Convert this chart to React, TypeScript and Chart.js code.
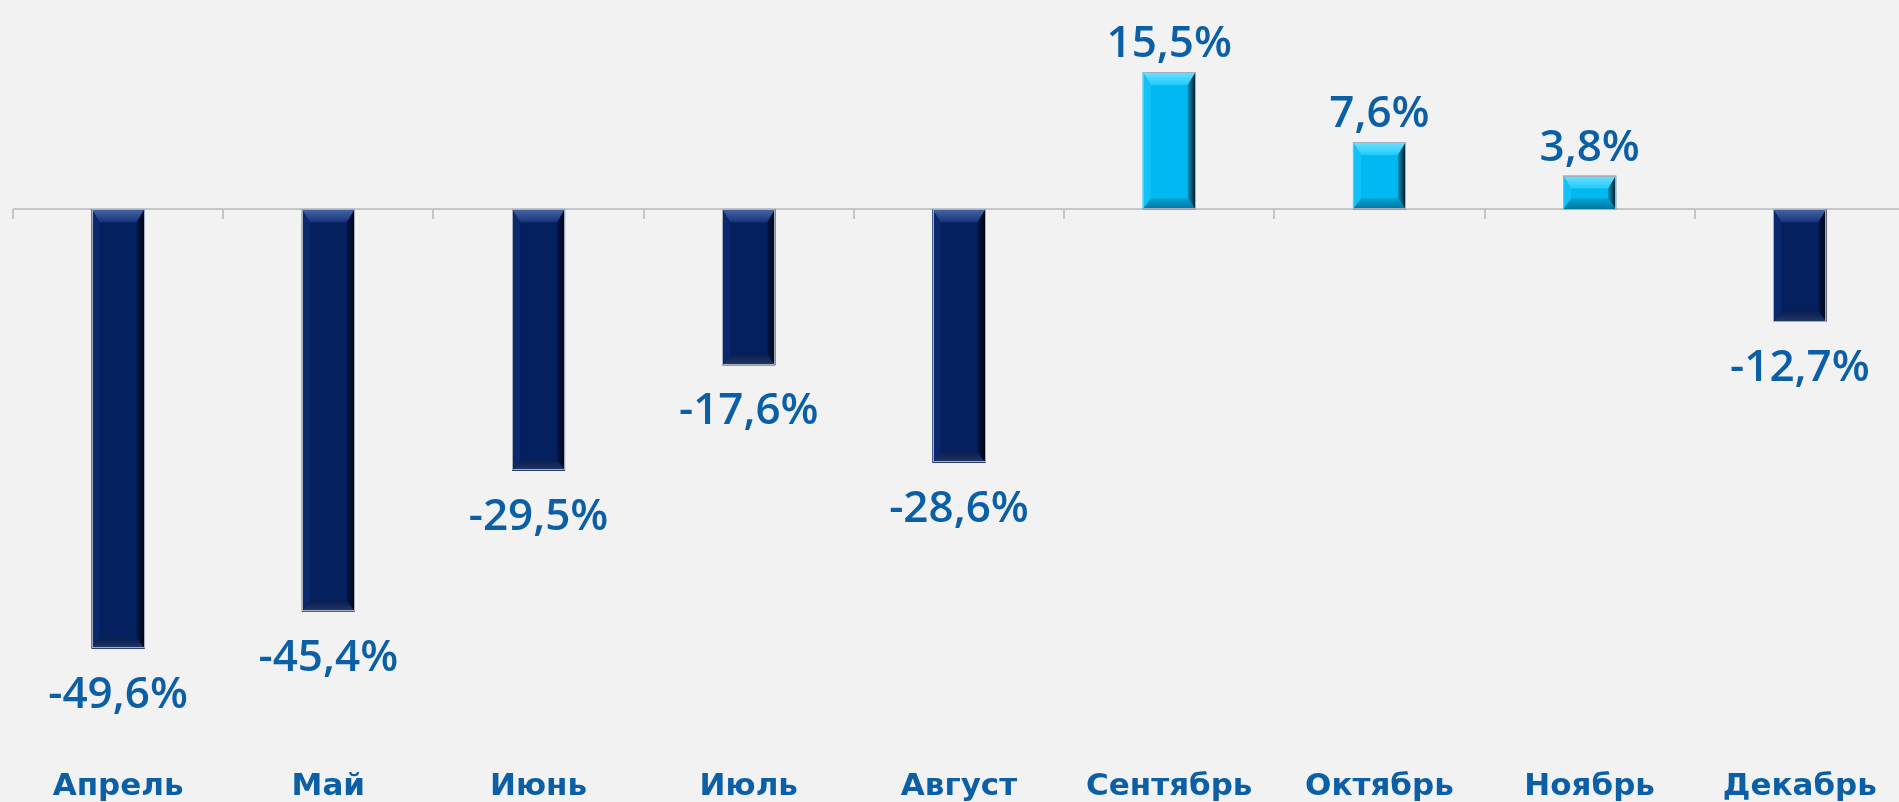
import React, { useEffect, useRef } from 'react';
import { Chart, registerables } from 'chart.js';

Chart.register(...registerables);

// ---- data ----
const months = ['Апрель', 'Май', 'Июнь', 'Июль', 'Август', 'Сентябрь', 'Октябрь', 'Ноябрь', 'Декабрь'];
const changePct = [-49.6, -45.4, -29.5, -17.6, -28.6, 15.5, 7.6, 3.8, -12.7];
const yMin = -62.16;
const yMax = 23.62;

const NAVY = '#05205F';
const CYAN = '#00B9F2';
const LABEL_BLUE = '#0A5FA6';

const fmt = (v: number) => v.toFixed(1).replace('.', ',') + '%';

const axisPlugin = {
  id: 'zeroAxis',
  beforeDatasetsDraw(chart: any) {
    const { ctx, scales } = chart;
    const x = scales.x;
    const y = scales.y;
    const y0 = Math.round(y.getPixelForValue(0));
    ctx.save();
    ctx.strokeStyle = '#C3C7CC';
    ctx.lineWidth = 2;
    ctx.beginPath();
    ctx.moveTo(chart.chartArea.left, y0);
    ctx.lineTo(chart.width, y0);
    ctx.stroke();
    for (let i = 0; i <= months.length; i++) {
      const px = Math.round(x.getPixelForValue(i - 0.5));
      ctx.beginPath();
      ctx.moveTo(px, y0);
      ctx.lineTo(px, y0 + 10);
      ctx.stroke();
    }
    ctx.restore();
  },
};

function poly(ctx: CanvasRenderingContext2D, pts: number[][], fill: any) {
  ctx.beginPath();
  ctx.moveTo(pts[0][0], pts[0][1]);
  for (let i = 1; i < pts.length; i++) ctx.lineTo(pts[i][0], pts[i][1]);
  ctx.closePath();
  ctx.fillStyle = fill;
  ctx.fill();
}

const bevelPlugin = {
  id: 'bevelBars',
  afterDatasetsDraw(chart: any) {
    const { ctx } = chart;
    const meta = chart.getDatasetMeta(0);
    ctx.save();
    meta.data.forEach((bar: any, i: number) => {
      const v = changePct[i];
      const p = bar.getProps(['x', 'y', 'base', 'width'], true);
      const L = p.x - p.width / 2;
      const R = p.x + p.width / 2;
      const T = Math.min(p.y, p.base);
      const B = Math.max(p.y, p.base);
      const s = 8;
      const bt = 13;
      const bb = 11;
      const pos = v >= 0;
      // top
      const gTop = ctx.createLinearGradient(0, T, 0, T + bt);
      gTop.addColorStop(0, pos ? '#6FE0FF' : '#4766A8');
      gTop.addColorStop(1, pos ? '#22CBFA' : '#163478');
      poly(ctx, [[L, T], [R, T], [R - s, T + bt], [L + s, T + bt]], gTop);
      // bottom
      const gBot = ctx.createLinearGradient(0, B - bb, 0, B);
      gBot.addColorStop(0, pos ? '#00A2D6' : '#081D50');
      gBot.addColorStop(1, pos ? '#00769E' : '#223868');
      poly(ctx, [[L, B], [R, B], [R - s, B - bb], [L + s, B - bb]], gBot);
      // left
      poly(ctx, [[L, T], [L + s, T + bt], [L + s, B - bb], [L, B]], pos ? '#10C2F8' : '#0A286E');
      // right
      const gR = ctx.createLinearGradient(R - s, 0, R, 0);
      gR.addColorStop(0, pos ? '#0090BE' : '#02174A');
      gR.addColorStop(1, pos ? '#00141E' : '#00030C');
      poly(ctx, [[R, T], [R - s, T + bt], [R - s, B - bb], [R, B]], gR);
      // outline
      ctx.strokeStyle = '#A7AFBB';
      ctx.lineWidth = 1;
      ctx.strokeRect(Math.round(L) + 0.5, Math.round(T) + 0.5, Math.round(R - L) - 1, Math.round(B - T) - 1);

      // value label
      ctx.fillStyle = LABEL_BLUE;
      ctx.font = '600 44px "Open Sans"';
      ctx.textAlign = 'center';
      ctx.textBaseline = 'alphabetic';
      const ly = pos ? T - 15 : B + 59;
      ctx.fillText(fmt(v), p.x, ly);
    });
    ctx.restore();
  },
};

export default function App() {
  const ref = useRef<HTMLCanvasElement | null>(null);

  useEffect(() => {
    if (!ref.current) return;
    const chart = new Chart(ref.current, {
      type: 'bar',
      data: {
        labels: months,
        datasets: [
          {
            data: changePct,
            backgroundColor: changePct.map((v) => (v >= 0 ? CYAN : NAVY)),
            borderWidth: 0,
            barPercentage: 0.252,
            categoryPercentage: 1,
          },
        ],
      },
      options: {
        responsive: false,
        animation: false,
        layout: { padding: { left: 13, right: 0, top: 0, bottom: 0 } },
        plugins: {
          legend: { display: false },
          tooltip: { enabled: false },
        },
        scales: {
          x: {
            position: 'bottom',
            grid: { display: false, drawTicks: false },
            border: { display: false },
            ticks: {
              color: LABEL_BLUE,
              font: { family: '"DejaVu Sans"', size: 31, weight: 'bold' },
              padding: 8,
              maxRotation: 0,
              autoSkip: false,
            },
            afterFit: (scale: any) => {
              scale.height = 42;
            },
          },
          y: {
            display: false,
            min: yMin,
            max: yMax,
          },
        },
      },
      plugins: [axisPlugin, bevelPlugin],
    });
    return () => chart.destroy();
  }, []);

  return (
    <div
      style={{
        position: 'fixed',
        left: 0,
        top: 0,
        width: 1899,
        height: 802,
        overflow: 'hidden',
        background: '#F2F2F2',
      }}
    >
      <canvas ref={ref} width={1905} height={802} style={{ display: 'block', width: 1905, height: 802 }} />
    </div>
  );
}
